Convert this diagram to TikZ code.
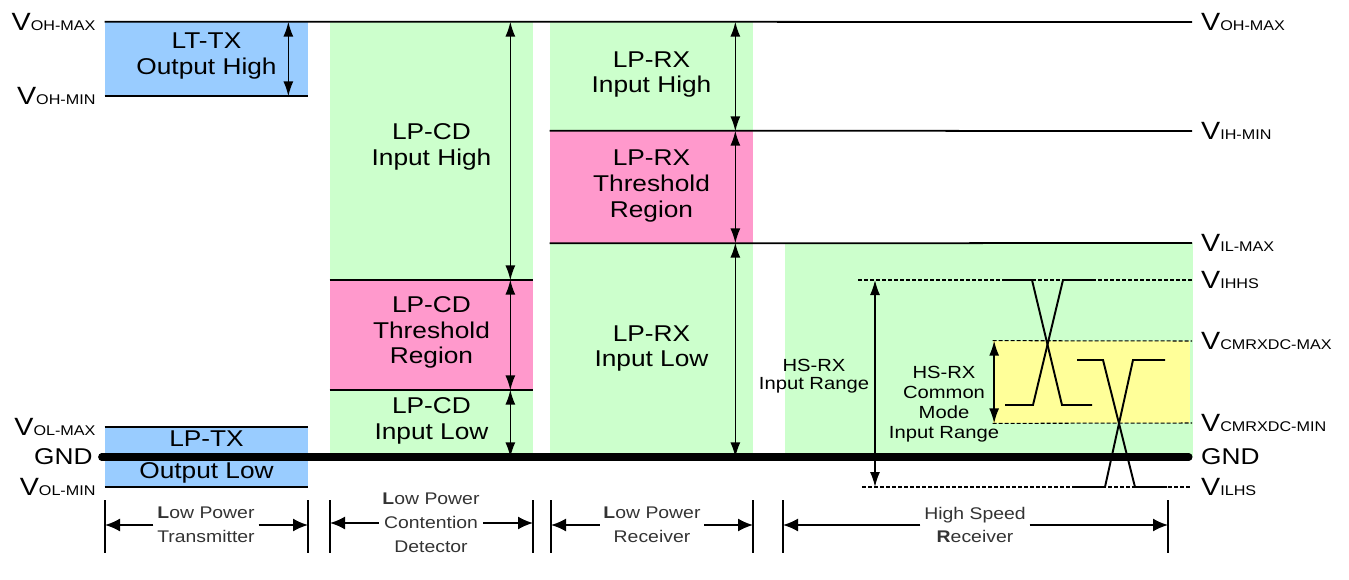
\documentclass[tikz,border=0pt]{standalone}
\usepackage{fontspec}
\setmainfont{Liberation Sans}[FakeStretch=1.15]
\usepackage{tikz}
\usetikzlibrary{positioning, arrows.meta, fit}
\definecolor{txblue}{RGB}{153,204,255}
\definecolor{lpgreen}{RGB}{204,255,204}
\definecolor{thpink}{RGB}{255,153,204}
\definecolor{cmyellow}{RGB}{255,255,153}
\newcommand{\lvlname}[1]{V{\fontsize{8}{8}\selectfont #1}}
\tikzset{
  band/.style={inner sep=0pt, draw=none},
  bandtxt/.style={inner sep=0pt, align=center, font=\fontsize{13}{14.7}\selectfont},
  vlab/.style={inner sep=5pt, font=\fontsize{14.2}{16}\selectfont},
  gndlab/.style={vlab, font=\fontsize{13}{15}\selectfont},
  hslab/.style={inner sep=1pt, align=center, font=\fontsize{10}{10.2}\selectfont},
  dimlab/.style={inner sep=2pt, align=center, text=black!80, font=\fontsize{9.6}{13.6}\selectfont},
  lvl/.style={line width=1pt},
  gnd/.style={line width=4pt, line cap=round},
  dots/.style={line width=0.6pt, dash pattern=on 0.8mm off 0.4mm},
  wave/.style={line width=1.1pt},
  varr/.style={{Latex[length=3mm,width=2mm]}-{Latex[length=3mm,width=2mm]}, line width=0.9pt},
  dimarr/.style={-{Latex[length=3mm,width=2.6mm]}, line width=1pt},
  tick/.style={line width=0.9pt},
}
\begin{document}
\begin{tikzpicture}[x=0.2mm, y=-0.2mm]
\useasboundingbox (0,0) rectangle (1349,579);
\node[band, fill=txblue, fit={(105,22) (308,96)}] (lttx) {};
\node[band, fill=txblue, fit={(105,427) (308,487)}] (lptx) {};
\node[band, fill=lpgreen, fit={(330,22) (533,280)}] (cdhigh) {};
\node[band, fill=thpink, fit={(330,280) (533,390)}] (cdthr) {};
\node[band, fill=lpgreen, fit={(330,390) (533,457)}] (cdlow) {};
\node[band, fill=lpgreen, fit={(550,22) (753,131)}] (rxhigh) {};
\node[band, fill=thpink, fit={(550,131) (753,243)}] (rxthr) {};
\node[band, fill=lpgreen, fit={(550,243) (753,457)}] (rxlow) {};
\node[band, fill=lpgreen, fit={(785,243) (1193,457)}] (hsrx) {};
\node[band, fill=cmyellow, fit={(993,341) (1190,423)}] (cmrange) {};

\node[bandtxt] (lttxlab) at ([yshift=0.6mm]lttx.center) {LT-TX\\Output High};
\node[bandtxt] (lptxlab) at (lptx.center) {LP-TX\\[1.2mm]Output Low};
\node[bandtxt] (cdhighlab) at ([yshift=0.8mm]cdhigh.center) {LP-CD\\Input High};
\node[bandtxt] (cdthrlab) at ([yshift=0.5mm]cdthr.center) {LP-CD\\Threshold\\Region};
\node[bandtxt] (cdlowlab) at ([yshift=0.5mm]cdlow.center) {LP-CD\\Input Low};
\node[bandtxt] (rxhighlab) at ([yshift=0.4mm]rxhigh.center) {LP-RX\\Input High};
\node[bandtxt] (rxthrlab) at ([yshift=0.2mm]rxthr.center) {LP-RX\\Threshold\\Region};
\node[bandtxt] (rxlowlab) at ([yshift=0.3mm]rxlow.center) {LP-RX\\Input Low};

\node[vlab, anchor=east] (ohmaxL) at (lttx.north west) {\lvlname{OH-MAX}};
\node[vlab, anchor=east] (ohminL) at (lttx.south west) {\lvlname{OH-MIN}};
\node[vlab, anchor=east] (olmaxL) at (lptx.north west) {\lvlname{OL-MAX}};
\node[vlab, anchor=east] (olminL) at (lptx.south west) {\lvlname{OL-MIN}};
\node[gndlab, anchor=east] (gndL) at ([xshift=-0.6mm]lptx.west) {GND};

\node[vlab, anchor=west] (ohmaxR) at (1192,22) {\lvlname{OH-MAX}};
\node[vlab, anchor=west] (ihminR) at (1192,131) {\lvlname{IH-MIN}};
\node[vlab, anchor=west] (ilmaxR) at (1192,243) {\lvlname{IL-MAX}};
\node[vlab, anchor=west] (ihhsR) at (1192,280) {\lvlname{IHHS}};
\node[vlab, anchor=west] (cmmaxR) at (1192,341) {\lvlname{CMRXDC-MAX}};
\node[vlab, anchor=west] (cmminR) at (1192,423) {\lvlname{CMRXDC-MIN}};
\node[gndlab, anchor=west] (gndR) at (1192,457) {GND};
\node[vlab, anchor=west] (ilhsR) at (1192,487) {\lvlname{ILHS}};

\draw[lvl] (lttx.north west) -- (ohmaxR.west);
\draw[lvl] (lttx.south west) -- (lttx.south east);
\draw[lvl] (lptx.north west) -- (lptx.north east);
\draw[lvl] (lptx.south west) -- (lptx.south east);
\draw[lvl] (cdthr.north west) -- (cdthr.north east);
\draw[lvl] (cdthr.south west) -- (cdthr.south east);
\draw[lvl] (rxthr.north west) -- (ihminR.west);
\draw[lvl] (rxthr.south west) -- (ilmaxR.west);
\coordinate (ihhsL) at (858,280);
\coordinate (ilhsL) at (862,487);
\coordinate (hsarr) at (875,0);
\draw[dots] (ihhsL) -- (ihhsR.west);
\draw[dots] (cmrange.north west) -- (cmmaxR.west);
\draw[dots] (cmrange.south west) -- (cmminR.west);
\draw[dots] (ilhsL) -- (ilhsR.west);
\draw[gnd] (gndL.east) -- ([xshift=-0.6mm]gndR.west);

\draw[varr] ([xshift=-4mm]lttx.north east) -- ([xshift=-4mm]lttx.south east);
\foreach \b in {cdhigh,cdthr,cdlow}
  \draw[varr] ([xshift=-4.6mm]\b.north east) -- ([xshift=-4.6mm]\b.south east);
\foreach \b in {rxhigh,rxthr,rxlow}
  \draw[varr] ([xshift=-3.6mm]\b.north east) -- ([xshift=-3.6mm]\b.south east);
\draw[varr] (hsarr |- ihhsL) -- (hsarr |- ilhsL);
\draw[varr] ([xshift=0.3mm]cmrange.north west) -- ([xshift=0.3mm]cmrange.south west);

\node[hslab] (hsrangelab) at (814,376) {HS-RX\\Input Range};
\node[hslab, font=\fontsize{10}{11.3}\selectfont] (cmlab) at (944,404) {HS-RX\\Common\\Mode\\Input Range};

\draw[wave] (1002,280) -- (1032,280) -- (1062,405) -- (1092,405);
\draw[wave] (1005,405) -- (1033,405) -- (1063,280) -- (1092,280);
\draw[wave] (1077,360) -- (1103,360) -- (1135,487) -- (1167,487);
\draw[wave] (1075,487) -- (1105,487) -- (1133,360) -- (1165,360);

\foreach \x [count=\i] in {105,308,330,533,551,753,783,1168}
  \draw[tick] (\x,500) coordinate (tk\i) -- ++(0,53);
\node[dimlab] (lptlab) at (206,525) {\textbf{L}ow Power\\Transmitter};
\node[dimlab] (lpcdlab) at (431,523) {\textbf{L}ow Power\\Contention\\Detector};
\node[dimlab] (lprxlab) at (652,525) {\textbf{L}ow Power\\Receiver};
\node[dimlab] (hsrlab) at (975,525) {High Speed\\\textbf{R}eceiver};
\foreach \l/\a/\b in {lptlab/1/2, lpcdlab/3/4, lprxlab/5/6, hsrlab/7/8} {
  \draw[dimarr] (\l.west) -- (\l.west -| tk\a);
  \draw[dimarr] (\l.east) -- (\l.east -| tk\b);
}
\end{tikzpicture}
\end{document}
